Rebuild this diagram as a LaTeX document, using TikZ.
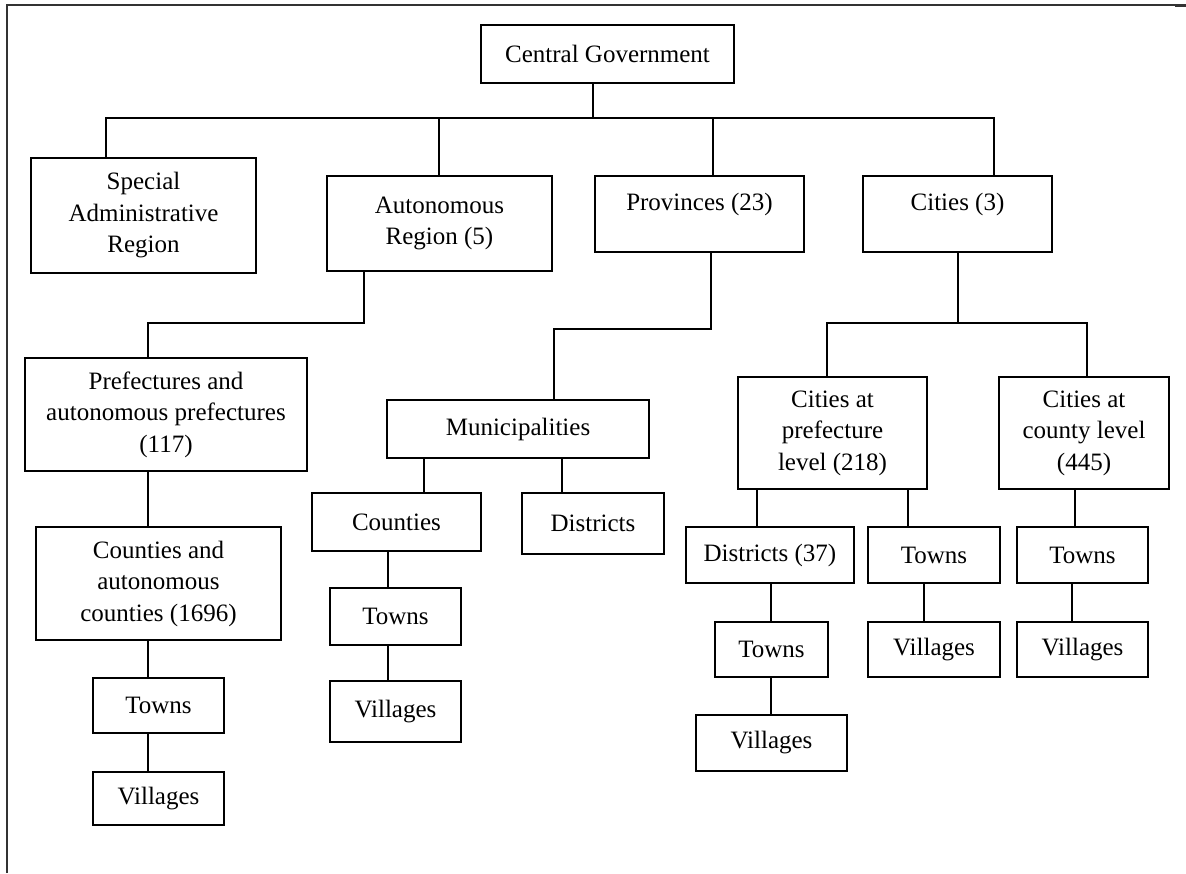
\documentclass[tikz,border=0pt]{standalone}
\usepackage{fontspec}
\setmainfont{Liberation Serif}
\usetikzlibrary{calc}

\tikzset{
    box/.style={draw, line width=2pt, align=center, inner sep=0pt,
        font=\fontsize{25}{31.5}\selectfont},
    link/.style={line width=2pt},
}

\begin{document}
\begin{tikzpicture}[x=1pt, y=-1pt]
    \useasboundingbox (0,0) rectangle (1186,873);
    \fill[white] (0,0) rectangle (1186,873);
    %% Frame
    \draw[line width=1.2pt, black!80] (7,873) to (7,5) to (1186,5);
    \draw[line width=2.4pt, black!80] (7,5) to (22,5);
    \draw[line width=2.4pt, black!80] (1175,5.5) to (1186,5.5);

    %% Top levels
    \node[box, minimum width=253, minimum height=58] (central) at (607.5,54) {Central Government};
    \node[box, minimum width=225, minimum height=115] (special) at (143.5,215.5) {Special\\Administrative\\Region};
    \node[box, minimum width=225, minimum height=95] (autonomous) at (439.5,223.5) {Autonomous\\Region (5)};
    \node[box, minimum width=209, minimum height=76, text depth=25pt] (provinces) at (699.5,214) {Provinces (23)};
    \node[box, minimum width=189, minimum height=76, text depth=25pt] (cities) at (957.5,214) {Cities (3)};

    %% Autonomous region branch
    \node[box, minimum width=282, minimum height=113] (prefectures) at (166,414.5) {Prefectures and\\autonomous prefectures\\(117)};
    \node[box, minimum width=245, minimum height=113] (countiesaut) at (158.5,583.5) {Counties and\\autonomous\\counties (1696)};
    \node[box, minimum width=131, minimum height=55] (townsA) at (158.5,705.5) {Towns};
    \node[box, minimum width=131, minimum height=53] (villagesA) at (158.5,798.5) {Villages};

    %% Provinces branch
    \node[box, minimum width=262, minimum height=58] (municipalities) at (518,429) {Municipalities};
    \node[box, minimum width=169, minimum height=58] (counties) at (396.5,522) {Counties};
    \node[box, minimum width=142, minimum height=61] (districts) at (593,523.5) {Districts};
    \node[box, minimum width=131, minimum height=57] (townsB) at (395.5,616.5) {Towns};
    \node[box, minimum width=131, minimum height=61] (villagesB) at (395.5,711.5) {Villages};

    %% Cities branch
    \node[box, minimum width=189, minimum height=112] (prefcities) at (832.5,433) {Cities at\\prefecture\\level (218)};
    \node[box, minimum width=170, minimum height=112] (countycities) at (1084,433) {Cities at\\county level\\(445)};
    \node[box, minimum width=168, minimum height=56] (districtsC) at (770,555) {Districts (37)};
    \node[box, minimum width=132, minimum height=56] (townsD) at (934,555) {Towns};
    \node[box, minimum width=131, minimum height=56] (townsE) at (1082.5,555) {Towns};
    \node[box, minimum width=113, minimum height=55] (townsC) at (771.5,649.5) {Towns};
    \node[box, minimum width=151, minimum height=56] (villagesC) at (771.5,743) {Villages};
    \node[box, minimum width=132, minimum height=55] (villagesD) at (934,649.5) {Villages};
    \node[box, minimum width=131, minimum height=55] (villagesE) at (1082.5,649.5) {Villages};

    %% Connector points
    \coordinate (bar) at (0,118);
    \coordinate (cg-out) at ([xshift=-14.5pt]central.south);
    \coordinate (sar-in) at ([xshift=-37.5pt]special.north);
    \coordinate (ar-in) at ([xshift=-0.5pt]autonomous.north);
    \coordinate (pr-in) at ([xshift=13.5pt]provinces.north);
    \coordinate (ci-in) at ([xshift=36.5pt]cities.north);
    \coordinate (ar-out) at ([xshift=-75.5pt]autonomous.south);
    \coordinate (pf-in) at ([xshift=-18pt]prefectures.north);
    \coordinate (pr-out) at ([xshift=11.5pt]provinces.south);
    \coordinate (mu-in) at ([xshift=36pt]municipalities.north);
    \coordinate (co-in) at ([xshift=27.5pt]counties.north);
    \coordinate (di-in) at ([xshift=-31pt]districts.north);
    \coordinate (tb-in) at ([xshift=-7.5pt]townsB.north);
    \coordinate (ci-out) at ([xshift=0.5pt]cities.south);
    \coordinate (pc-in) at ([xshift=-5.5pt]prefcities.north);
    \coordinate (cc-in) at ([xshift=3pt]countycities.north);
    \coordinate (dc-in) at ([xshift=-13pt]districtsC.north);
    \coordinate (td-in) at ([xshift=-26pt]townsD.north);
    \coordinate (te-in) at ([xshift=-7.5pt]townsE.north);
    \coordinate (tc-in) at ([xshift=-0.5pt]townsC.north);
    \coordinate (vd-in) at ([xshift=-10pt]villagesD.north);
    \coordinate (ve-in) at ([xshift=-10.5pt]villagesE.north);

    %% Central government to the first level
    \draw[link] (cg-out) -- (cg-out |- bar);
    \draw[link] (sar-in) |- (ci-in |- bar) -- (ci-in);
    \draw[link] (ar-in) -- (ar-in |- bar);
    \draw[link] (pr-in) -- (pr-in |- bar);

    %% Autonomous region
    \draw[link] (ar-out) -- ++(0,51) -| (pf-in);
    \draw[link] (pf-in |- prefectures.south) -- (pf-in |- countiesaut.north);
    \draw[link] (pf-in |- countiesaut.south) -- (pf-in |- townsA.north);
    \draw[link] (pf-in |- townsA.south) -- (pf-in |- villagesA.north);

    %% Provinces
    \draw[link] (pr-out) -- ++(0,76) -| (mu-in);
    \draw[link] (co-in |- municipalities.south) -- (co-in);
    \draw[link] (di-in |- municipalities.south) -- (di-in);
    \draw[link] (tb-in |- counties.south) -- (tb-in);
    \draw[link] (tb-in |- townsB.south) -- (tb-in |- villagesB.north);

    %% Cities
    \draw[link] (ci-out) -- ++(0,70) coordinate (cj);
    \draw[link] (pc-in) |- (cc-in |- cj) -- (cc-in);
    \draw[link] (dc-in |- prefcities.south) -- (dc-in);
    \draw[link] (td-in |- prefcities.south) -- (td-in);
    \draw[link] (te-in |- countycities.south) -- (te-in);
    \draw[link] (tc-in |- districtsC.south) -- (tc-in);
    \draw[link] (tc-in |- townsC.south) -- (tc-in |- villagesC.north);
    \draw[link] (vd-in |- townsD.south) -- (vd-in);
    \draw[link] (ve-in |- townsE.south) -- (ve-in);
\end{tikzpicture}
\end{document}
